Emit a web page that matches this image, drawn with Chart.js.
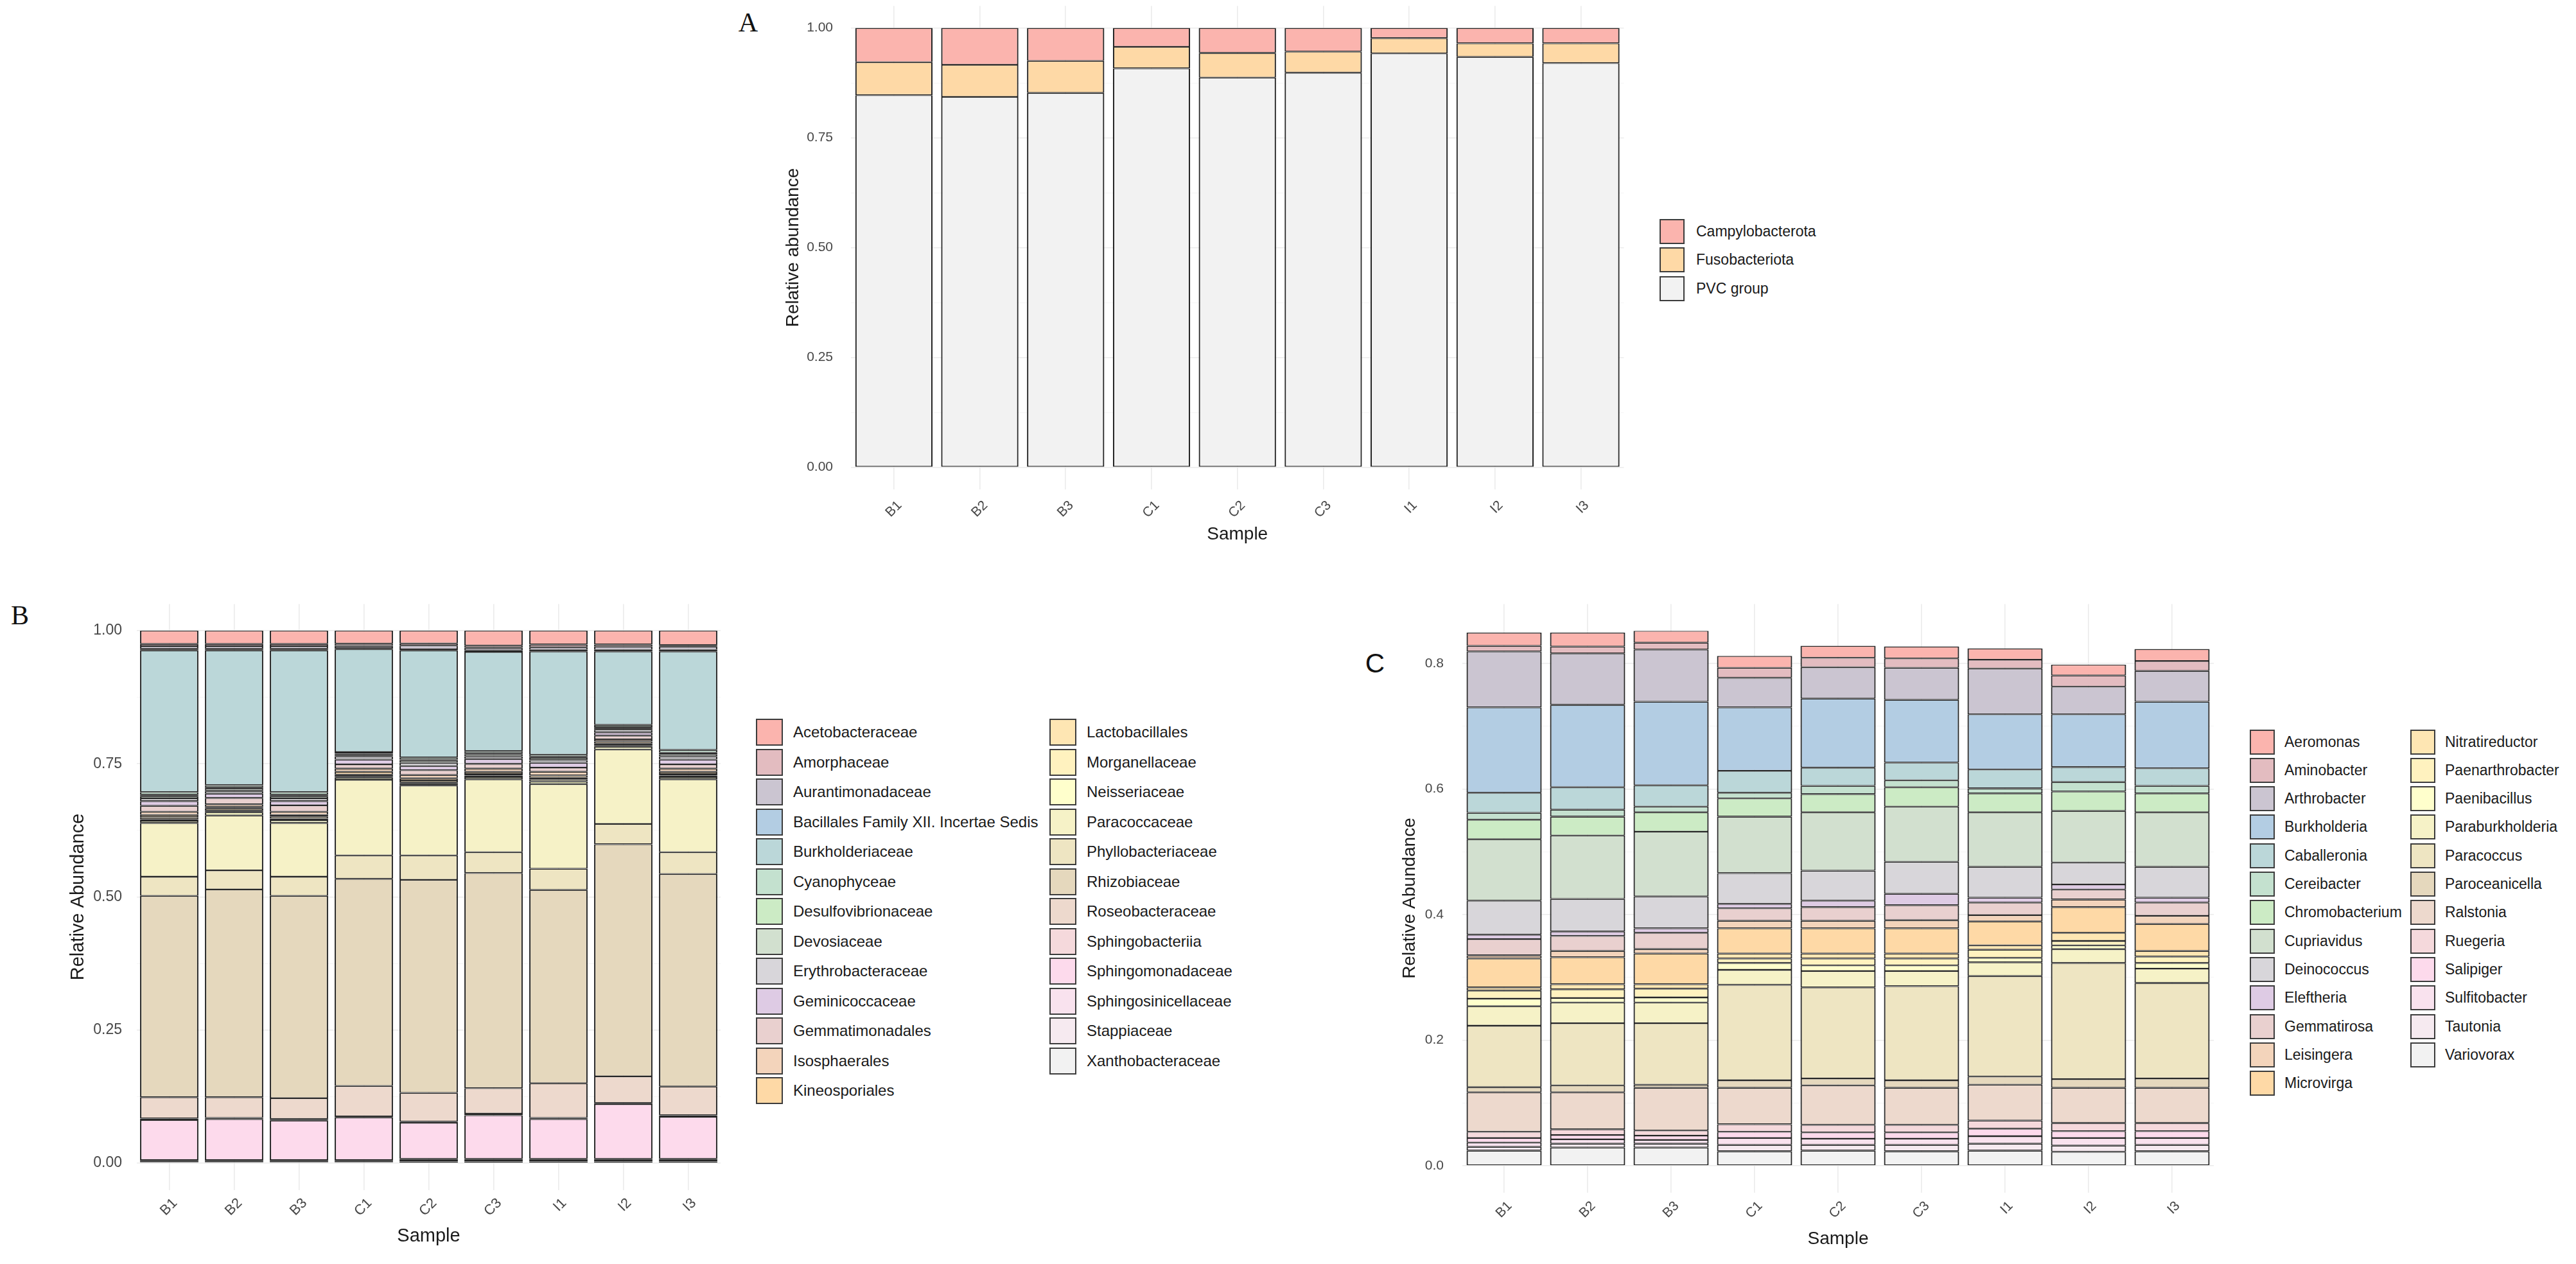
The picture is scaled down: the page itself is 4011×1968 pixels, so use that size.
<!DOCTYPE html>
<html lang="en">
<head>
<meta charset="UTF-8">
<title>Relative abundance</title>
<script src="https://cdn.jsdelivr.net/npm/chart.js@4.4.1/dist/chart.umd.min.js"></script>
<style>
  html, body { margin: 0; padding: 0; background: #fff; }
  body { position: relative; width: 4011px; height: 1968px; overflow: hidden; font-family: "Liberation Sans", Arial, sans-serif; }
  canvas { position: absolute; }
  .tag { position: absolute; font-family: "Liberation Serif", serif; font-size: 42px; line-height: 1; color: #111; transform: translate(-50%, -50%); }
  .key { position: absolute; display: flex; align-items: center; white-space: nowrap; color: #1a1a1a; }
  .key .box { display: inline-block; box-sizing: border-box; border: 2px solid #3c3c3c; flex: none; }
</style>
</head>
<body>

<div class="tag" style="left:1165px;top:35px">A</div>
<div class="tag" style="left:31px;top:958px">B</div>
<div class="tag" style="left:2141px;top:1033px;font-family:'Liberation Sans',sans-serif;font-weight:300">C</div>

<canvas id="chartA" width="1420" height="870" style="left:1150px;top:0px"></canvas>
<canvas id="chartB" width="1150" height="1068" style="left:0px;top:900px"></canvas>
<canvas id="chartC" width="1380" height="1068" style="left:2100px;top:900px"></canvas>

<script>
    // samples on the x axis
    const samples = ['B1', 'B2', 'B3', 'C1', 'C2', 'C3', 'I1', 'I2', 'I3'];

    // panel A - phyla (legend order, first one sits on top of the stack)
    const phyla = ['Campylobacterota', 'Fusobacteriota', 'PVC group'];
    const phylaValues = [
        [0.078, 0.084, 0.075, 0.043, 0.057, 0.054, 0.023, 0.035, 0.035],
        [0.075, 0.073, 0.073, 0.049, 0.056, 0.048, 0.035, 0.031, 0.045],
        [0.847, 0.843, 0.852, 0.908, 0.887, 0.898, 0.942, 0.934, 0.920]
    ];

    // panel B - families
    const families = [
        'Acetobacteraceae', 'Amorphaceae', 'Aurantimonadaceae', 'Bacillales Family XII. Incertae Sedis',
        'Burkholderiaceae', 'Cyanophyceae', 'Desulfovibrionaceae', 'Devosiaceae', 'Erythrobacteraceae',
        'Geminicoccaceae', 'Gemmatimonadales', 'Isosphaerales', 'Kineosporiales', 'Lactobacillales',
        'Morganellaceae', 'Neisseriaceae', 'Paracoccaceae', 'Phyllobacteriaceae', 'Rhizobiaceae',
        'Roseobacteraceae', 'Sphingobacteriia', 'Sphingomonadaceae', 'Sphingosinicellaceae',
        'Stappiaceae', 'Xanthobacteraceae'
    ];
    const familyValues = [
        [0.025, 0.025, 0.025, 0.0245, 0.024, 0.028, 0.026, 0.026, 0.027],
        [0.004, 0.004, 0.004, 0.004, 0.004, 0.004, 0.005, 0.004, 0.003],
        [0.005, 0.005, 0.005, 0.004, 0.007, 0.005, 0.005, 0.006, 0.006],
        [0.003, 0.003, 0.003, 0.002, 0.002, 0.003, 0.003, 0.003, 0.003],
        [0.266, 0.253, 0.266, 0.1935, 0.201, 0.186, 0.194, 0.138, 0.185],
        [0.005, 0.004, 0.005, 0.003, 0.004, 0.004, 0.004, 0.004, 0.005],
        [0.003, 0.003, 0.003, 0.002, 0.002, 0.002, 0.002, 0.002, 0.003],
        [0.004, 0.004, 0.004, 0.003, 0.004, 0.004, 0.004, 0.003, 0.004],
        [0.005, 0.005, 0.005, 0.006, 0.006, 0.005, 0.005, 0.005, 0.006],
        [0.009, 0.008, 0.008, 0.009, 0.008, 0.009, 0.009, 0.006, 0.009],
        [0.011, 0.012, 0.012, 0.008, 0.009, 0.009, 0.008, 0.007, 0.008],
        [0.006, 0.005, 0.006, 0.006, 0.006, 0.006, 0.007, 0.004, 0.006],
        [0.004, 0.003, 0.003, 0.005, 0.004, 0.004, 0.004, 0.004, 0.004],
        [0.004, 0.004, 0.004, 0.003, 0.004, 0.003, 0.003, 0.003, 0.003],
        [0.003, 0.003, 0.003, 0.003, 0.003, 0.003, 0.004, 0.003, 0.003],
        [0.004, 0.006, 0.005, 0.004, 0.003, 0.004, 0.005, 0.005, 0.004],
        [0.101, 0.103, 0.101, 0.142, 0.131, 0.137, 0.159, 0.140, 0.137],
        [0.036, 0.036, 0.036, 0.044, 0.046, 0.039, 0.040, 0.038, 0.041],
        [0.378, 0.390, 0.380, 0.389, 0.400, 0.404, 0.363, 0.436, 0.399],
        [0.040, 0.039, 0.039, 0.057, 0.054, 0.048, 0.065, 0.050, 0.054],
        [0.003, 0.002, 0.003, 0.002, 0.002, 0.003, 0.002, 0.002, 0.003],
        [0.075, 0.077, 0.074, 0.080, 0.068, 0.082, 0.075, 0.103, 0.079],
        [0.002, 0.002, 0.002, 0.002, 0.002, 0.002, 0.002, 0.002, 0.002],
        [0.002, 0.002, 0.002, 0.002, 0.003, 0.003, 0.003, 0.003, 0.003],
        [0.002, 0.002, 0.002, 0.002, 0.003, 0.003, 0.003, 0.003, 0.003]
    ];

    // panel C - genera
    const genera = [
        'Aeromonas', 'Aminobacter', 'Arthrobacter', 'Burkholderia', 'Caballeronia', 'Cereibacter',
        'Chromobacterium', 'Cupriavidus', 'Deinococcus', 'Eleftheria', 'Gemmatirosa', 'Leisingera',
        'Microvirga', 'Nitratireductor', 'Paenarthrobacter', 'Paenibacillus', 'Paraburkholderia',
        'Paracoccus', 'Paroceanicella', 'Ralstonia', 'Ruegeria', 'Salipiger', 'Sulfitobacter',
        'Tautonia', 'Variovorax'
    ];
    const genusValues = [
        [0.021, 0.022, 0.019, 0.019, 0.019, 0.019, 0.018, 0.017, 0.019],
        [0.009, 0.011, 0.011, 0.016, 0.015, 0.015, 0.014, 0.018, 0.016],
        [0.089, 0.082, 0.083, 0.047, 0.050, 0.051, 0.073, 0.044, 0.049],
        [0.136, 0.131, 0.133, 0.101, 0.110, 0.100, 0.088, 0.084, 0.106],
        [0.032, 0.036, 0.034, 0.035, 0.029, 0.028, 0.030, 0.024, 0.028],
        [0.011, 0.011, 0.009, 0.009, 0.013, 0.011, 0.008, 0.015, 0.012],
        [0.031, 0.030, 0.031, 0.029, 0.029, 0.031, 0.030, 0.031, 0.030],
        [0.098, 0.101, 0.103, 0.090, 0.093, 0.088, 0.087, 0.082, 0.087],
        [0.054, 0.052, 0.051, 0.049, 0.048, 0.051, 0.049, 0.035, 0.049],
        [0.007, 0.007, 0.007, 0.007, 0.010, 0.018, 0.008, 0.008, 0.008],
        [0.026, 0.024, 0.026, 0.020, 0.022, 0.024, 0.020, 0.016, 0.021],
        [0.005, 0.010, 0.007, 0.012, 0.012, 0.013, 0.010, 0.012, 0.013],
        [0.046, 0.043, 0.049, 0.040, 0.040, 0.040, 0.038, 0.041, 0.043],
        [0.005, 0.008, 0.007, 0.008, 0.008, 0.008, 0.007, 0.013, 0.009],
        [0.013, 0.014, 0.014, 0.007, 0.011, 0.011, 0.013, 0.007, 0.010],
        [0.012, 0.007, 0.008, 0.011, 0.009, 0.009, 0.007, 0.006, 0.009],
        [0.031, 0.033, 0.033, 0.024, 0.026, 0.024, 0.022, 0.022, 0.023],
        [0.098, 0.099, 0.098, 0.152, 0.145, 0.150, 0.160, 0.185, 0.152],
        [0.008, 0.011, 0.005, 0.012, 0.011, 0.012, 0.013, 0.014, 0.015],
        [0.063, 0.059, 0.068, 0.058, 0.063, 0.059, 0.057, 0.056, 0.056],
        [0.010, 0.009, 0.008, 0.012, 0.012, 0.012, 0.013, 0.013, 0.013],
        [0.007, 0.007, 0.007, 0.010, 0.010, 0.010, 0.012, 0.011, 0.011],
        [0.007, 0.007, 0.006, 0.011, 0.010, 0.010, 0.012, 0.012, 0.011],
        [0.006, 0.006, 0.006, 0.010, 0.009, 0.010, 0.011, 0.010, 0.010],
        [0.024, 0.029, 0.029, 0.023, 0.024, 0.023, 0.024, 0.022, 0.023]
    ];

    // y axis ticks (labelled) and the minor grid lines in between
    const ticksAB = [0, 0.25, 0.5, 0.75, 1];
    const minorAB = [0.125, 0.375, 0.625, 0.875];
    const ticksC = [0, 0.2, 0.4, 0.6, 0.8];
    const minorC = [0.1, 0.3, 0.5, 0.7];

    // Pastel1 stretched to n colours, like colorRampPalette in R
    function pastelRamp(n) {
        const base = ['#FBB4AE', '#B3CDE3', '#CCEBC5', '#DECBE4', '#FED9A6', '#FFFFCC', '#E5D8BD', '#FDDAEC', '#F2F2F2'];
        const rgb = base.map(h => [1, 3, 5].map(p => parseInt(h.slice(p, p + 2), 16)));
        const out = [];
        for (let i = 0; i < n; i++) {
            const t = n === 1 ? 0 : i * (base.length - 1) / (n - 1);
            const k = Math.min(Math.floor(t), base.length - 2);
            const f = t - k;
            const c = rgb[k].map((v, j) => Math.round(v + (rgb[k + 1][j] - v) * f));
            out.push(`rgb(${c.join(',')})`);
        }
        return out;
    }

    const FONT = '"Liberation Sans", Arial, sans-serif';

    function stackedChart(id, names, values, colors, o) {
        // chart.js stacks the first dataset at the bottom, ggplot puts the first level on top
        const datasets = names.map((name, i) => ({
            label: name,
            data: values[i],
            backgroundColor: colors[i],
            borderColor: '#262626',
            borderWidth: { top: 1.4, bottom: 1.4, left: 2.2, right: 2.2 },
            borderSkipped: false,
            barPercentage: 0.9,
            categoryPercentage: 1.0
        })).reverse();

        const allTicks = o.major.concat(o.minor).sort((a, b) => a - b);

        return new Chart(document.getElementById(id), {
            type: 'bar',
            data: { labels: samples, datasets: datasets },
            options: {
                responsive: false,
                animation: false,
                layout: { padding: { top: o.padTop, right: o.padRight, left: 0, bottom: 0 } },
                plugins: { legend: { display: false }, tooltip: { enabled: false } },
                scales: {
                    x: {
                        stacked: true,
                        offset: true,
                        grid: { offset: false, color: '#EBEBEB', lineWidth: 1.6, drawTicks: false },
                        border: { display: false },
                        ticks: {
                            minRotation: 45, maxRotation: 45, autoSkip: false,
                            padding: o.xPad, labelOffset: 9,
                            color: '#474747', font: { family: FONT, size: o.xTickSize }
                        },
                        title: {
                            display: true, text: 'Sample', color: '#1a1a1a',
                            font: { family: FONT, size: o.titleSize },
                            padding: { top: 0, bottom: o.xTitlePad }
                        },
                        afterFit: s => { s.height = o.xAxisHeight; s.paddingLeft = 0; s.paddingRight = 0; }
                    },
                    y: {
                        stacked: true,
                        min: o.yMin,
                        max: o.yMax,
                        afterBuildTicks: s => { s.ticks = allTicks.map(v => ({ value: v })); },
                        grid: {
                            drawTicks: false,
                            color: ctx => o.major.includes(ctx.tick.value) ? '#EBEBEB' : '#F5F5F5',
                            lineWidth: ctx => o.major.includes(ctx.tick.value) ? 1.6 : 1
                        },
                        border: { display: false },
                        ticks: {
                            padding: o.yPad,
                            color: '#474747',
                            font: { family: FONT, size: o.yTickSize },
                            callback: v => o.major.includes(v) ? v.toFixed(o.decimals) : ''
                        },
                        title: {
                            display: true, text: o.yTitle, color: '#1a1a1a',
                            font: { family: FONT, size: o.titleSize },
                            padding: { top: o.yTitlePad, bottom: 0 }
                        },
                        afterFit: s => { s.width = o.yAxisWidth; s.paddingTop = 0; s.paddingBottom = 0; }
                    }
                }
            }
        });
    }

    function drawLegend(names, colors, o) {
        names.forEach((name, i) => {
            const col = i < o.rows ? 0 : 1;
            const row = col ? i - o.rows : i;
            const item = document.createElement('div');
            item.className = 'key';
            item.style.left = (col ? o.x2 : o.x1) + 'px';
            item.style.top = (o.y0 + row * o.step - o.box / 2) + 'px';
            item.style.height = o.box + 'px';
            item.style.fontSize = o.font + 'px';
            const sw = document.createElement('span');
            sw.className = 'box';
            sw.style.width = o.box + 'px';
            sw.style.height = o.box + 'px';
            sw.style.background = colors[i];
            sw.style.marginRight = o.gap + 'px';
            item.appendChild(sw);
            item.appendChild(document.createTextNode(name));
            document.body.appendChild(item);
        });
    }

    const colorsA = pastelRamp(phyla.length);
    const colorsB = pastelRamp(families.length);
    const colorsC = pastelRamp(genera.length);

    stackedChart('chartA', phyla, phylaValues, colorsA, {
        yMin: -0.05, yMax: 1.05, major: ticksAB, minor: minorAB, decimals: 2,
        yTitle: 'Relative abundance', titleSize: 28, yTickSize: 21, xTickSize: 21,
        padTop: 9.3, padRight: 41.6, yAxisWidth: 175, xAxisHeight: 108.3,
        yPad: 28, yTitlePad: 68, xPad: 13, xTitlePad: 21
    });
    stackedChart('chartB', families, familyValues, colorsB, {
        yMin: -0.05, yMax: 1.05, major: ticksAB, minor: minorAB, decimals: 2,
        yTitle: 'Relative Abundance', titleSize: 29, yTickSize: 23, xTickSize: 22,
        padTop: 40.5, padRight: 28, yAxisWidth: 213, xAxisHeight: 115.5,
        yPad: 23, yTitlePad: 104.6, xPad: 8, xTitlePad: 25.6
    });
    stackedChart('chartC', genera, genusValues, colorsC, {
        yMin: -0.0426, yMax: 0.8946, major: ticksC, minor: minorC, decimals: 1,
        yTitle: 'Relative Abundance', titleSize: 28, yTickSize: 21, xTickSize: 21,
        padTop: 40.5, padRight: 33, yAxisWidth: 177, xAxisHeight: 111.4,
        yPad: 29, yTitlePad: 78, xPad: 9, xTitlePad: 22
    });

    drawLegend(phyla, colorsA, { x1: 2584, x2: 2584, y0: 360, step: 44.5, box: 39, gap: 18, rows: 3, font: 23 });
    drawLegend(families, colorsB, { x1: 1177, x2: 1634, y0: 1140, step: 46.5, box: 42, gap: 16, rows: 13, font: 24 });
    drawLegend(genera, colorsC, { x1: 3503, x2: 3753, y0: 1155, step: 44.3, box: 39, gap: 15, rows: 13, font: 23 });
</script>

</body>
</html>
